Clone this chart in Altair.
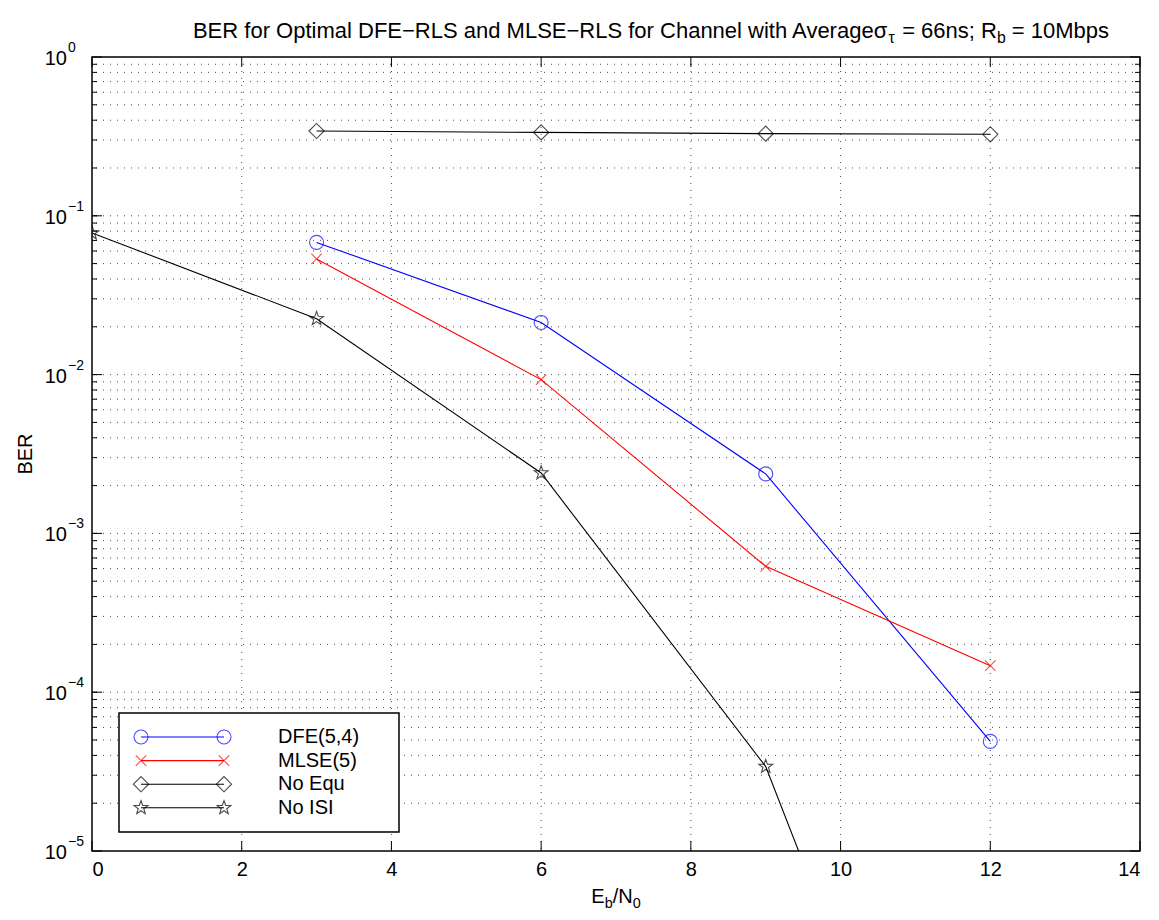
import math
import altair as alt
import pandas as pd

# ---- data -------------------------------------------------------------
series_names = ["DFE(5,4)", "MLSE(5)", "No Equ", "No ISI"]
series_colors = ["#0000ff", "#ff0000", "#000000", "#000000"]

ebn0 = [3, 6, 9, 12]
ber_dfe = [0.068, 0.0213, 0.00237, 4.9e-5]
ber_mlse = [0.0535, 0.0093, 0.00062, 1.47e-4]
ber_no_equ = [0.342, 0.335, 0.329, 0.326]
ebn0_no_isi = [0, 3, 6, 9, 12]
ber_no_isi = [0.078, 0.0225, 0.0024, 3.4e-5, 8e-9]

x_ticks = [0, 2, 4, 6, 8, 10, 12, 14]
y_decades = [1e0, 1e-1, 1e-2, 1e-3, 1e-4, 1e-5]
y_exponents = ["0", "\u22121", "\u22122", "\u22123", "\u22124", "\u22125"]

# ---- geometry / style --------------------------------------------------
W, H = 1048, 794
PAD = {"left": 92, "top": 57, "right": 19, "bottom": 69}
FONT = "Liberation Sans"
FS = 20

X_PATH = "M-1,-1L1,1M1,-1L-1,1"
star_pts = []
for k in range(10):
    r = 1.0 if k % 2 == 0 else 0.40
    a = math.radians(-90 + 36 * k)
    star_pts.append(f"{r * math.cos(a):.3f},{r * math.sin(a):.3f}")
STAR_PATH = "M" + "L".join(star_pts) + "Z"

marker_shapes = ["circle", X_PATH, "diamond", STAR_PATH]
marker_sizes = [196, 110, 230, 210]

xscale = alt.Scale(domain=[0, 14], nice=False, zero=False)
yscale = alt.Scale(type="log", domain=[1e-5, 1], nice=False)
xaxis = alt.Axis(values=x_ticks, ticks=False, domain=False, grid=False,
                 labelFont=FONT, labelFontSize=FS, labelColor="black",
                 labelPadding=8, title=None, format="d")

rows = []
all_x = [ebn0, ebn0, ebn0, ebn0_no_isi]
all_y = [ber_dfe, ber_mlse, ber_no_equ, ber_no_isi]
for i, name in enumerate(series_names):
    for xv, yv in zip(all_x[i], all_y[i]):
        rows.append({"series": name, "x": xv, "y": yv,
                     "color": series_colors[i], "shape": marker_shapes[i],
                     "size": marker_sizes[i]})
df = pd.DataFrame(rows)

# Arial / Liberation Sans advance widths (1/1000 em)
ADV = {' ': 278, 'B': 667, 'E': 667, 'R': 722, 'f': 278, 'o': 556, 'r': 333,
       'O': 778, 'p': 556, 't': 278, 'i': 222, 'm': 833, 'a': 556, 'l': 222,
       'D': 722, 'F': 611, '\u2212': 584, 'L': 556, 'S': 667, 'n': 556,
       'd': 556, 'M': 833, 'C': 722, 'h': 556, 'e': 556, 'w': 722, 'A': 667,
       'v': 500, 'g': 556, '\u03c3': 600, '\u03c4': 480, '=': 584, '6': 556,
       's': 500, ';': 278, '1': 556, '0': 556, 'b': 556, 'N': 722, '/': 278}


def text_width(s, size):
    return sum(ADV.get(c, 556) for c in s) * size / 1000.0


def rich_text(pieces, cx, baseline, size):
    """Lay out (text, is_subscript) pieces centred on cx."""
    sub = size * 0.72
    total = sum(text_width(t, sub if s else size) for t, s in pieces)
    x = cx - total / 2
    out = []
    for t, s in pieces:
        fs = sub if s else size
        body = t.lstrip(" ")
        x += text_width(t[: len(t) - len(body)], fs)  # SVG drops leading blanks
        out.append(alt.Chart(pd.DataFrame({"k": [0]})).mark_text(
            align="left", baseline="alphabetic", font=FONT, fontSize=fs,
            color="black").encode(
            x=alt.value(x), y=alt.value(baseline + (5 if s else 0)),
            text=alt.value(body)))
        x += text_width(body, fs)
    return out


def X(field="x"):
    return alt.X(f"{field}:Q", scale=xscale, axis=xaxis)


def Y(field="y"):
    return alt.Y(f"{field}:Q", scale=yscale, axis=None)


layers = []

# dotted grid
grid_dash = [1, 6]
xgrid = pd.DataFrame({"x": x_ticks[1:-1]})
layers.append(alt.Chart(xgrid).mark_rule(strokeDash=grid_dash, color="#222",
                                         strokeWidth=1, opacity=0.8).encode(x=X()))
ygrid_vals = []
for d in y_decades[1:]:
    for k in range(1, 10):
        v = d * k
        if 1e-5 < v < 1:
            ygrid_vals.append(v)
ygrid = pd.DataFrame({"y": ygrid_vals})
layers.append(alt.Chart(ygrid).mark_rule(strokeDash=grid_dash, color="#222",
                                         strokeWidth=1, opacity=0.8).encode(y=Y()))

# inward ticks on all four sides
majors = pd.DataFrame({"y": y_decades})
minors = pd.DataFrame({"y": ygrid_vals})
for tick_df, length in [(majors, 10), (minors, 5)]:
    layers.append(alt.Chart(tick_df).mark_rule(color="black", strokeWidth=1).encode(
        y=Y(), x=alt.value(0), x2=alt.value(length)))
    layers.append(alt.Chart(tick_df).mark_rule(color="black", strokeWidth=1).encode(
        y=Y(), x=alt.value(W - length), x2=alt.value(W)))
xt = pd.DataFrame({"x": x_ticks})
layers.append(alt.Chart(xt).mark_rule(color="black", strokeWidth=1).encode(
    x=X(), y=alt.value(H - 10), y2=alt.value(H)))
layers.append(alt.Chart(xt).mark_rule(color="black", strokeWidth=1).encode(
    x=X(), y=alt.value(0), y2=alt.value(10)))

# y tick labels: 10 with a raised exponent
ylab = pd.DataFrame({"y": y_decades, "e": y_exponents})
layers.append(alt.Chart(ylab).mark_text(align="right", baseline="middle", font=FONT,
                                        fontSize=FS, color="black", dx=-25, dy=2).encode(
    y=Y(), x=alt.value(0), text=alt.value("10")))
layers.append(alt.Chart(ylab).mark_text(align="left", baseline="middle", font=FONT,
                                        fontSize=14, color="black", dx=-24, dy=-9).encode(
    y=Y(), x=alt.value(0), text="e:N"))

# x axis carrier (labels only)
layers.append(alt.Chart(xt).mark_point(opacity=0).encode(x=X(), y=alt.value(H)))

# curves
layers.append(alt.Chart(df).mark_line(strokeWidth=1.1, clip=True).encode(
    x=X(), y=Y(), detail="series:N", color=alt.Color("color:N", scale=None)))
layers.append(alt.Chart(df).mark_point(filled=False, strokeWidth=1.1, clip=True).encode(
    x=X(), y=Y(), color=alt.Color("color:N", scale=None),
    shape=alt.Shape("shape:N", scale=None), size=alt.Size("size:Q", scale=None)))

# legend box
LX0, LY0, LX1, LY1 = 27, 656, 307, 775
layers.append(alt.Chart(pd.DataFrame({"k": [0]})).mark_rect(
    fill="white", stroke="black", strokeWidth=1.5).encode(
    x=alt.value(LX0), x2=alt.value(LX1), y=alt.value(LY0), y2=alt.value(LY1)))
leg = pd.DataFrame({
    "name": series_names,
    "color": series_colors,
    "shape": marker_shapes,
    "size": marker_sizes,
    "ly": [680 + 23.6 * i for i in range(4)],
})
leg["lx0"] = 49
leg["lx1"] = 132
leg["tx"] = 186
layers.append(alt.Chart(leg).mark_rule(strokeWidth=1.1).encode(
    x=alt.X("lx0:Q", scale=None), x2="lx1:Q", y=alt.Y("ly:Q", scale=None),
    color=alt.Color("color:N", scale=None)))
for col in ["lx0", "lx1"]:
    layers.append(alt.Chart(leg).mark_point(filled=False, strokeWidth=1.1).encode(
        x=alt.X(f"{col}:Q", scale=None), y=alt.Y("ly:Q", scale=None),
        color=alt.Color("color:N", scale=None),
        shape=alt.Shape("shape:N", scale=None), size=alt.Size("size:Q", scale=None)))
layers.append(alt.Chart(leg).mark_text(align="left", baseline="middle", font=FONT,
                                       fontSize=FS, color="black").encode(
    x=alt.X("tx:Q", scale=None), y=alt.Y("ly:Q", scale=None), text="name:N"))

# titles
layers += rich_text([("BER for Optimal DFE\u2212RLS and MLSE\u2212RLS for Channel with Average\u03c3", False),
                     ("\u03c4", True), (" = 66ns; R", False), ("b", True),
                     (" = 10Mbps", False)], W / 2 + 35, -19, 22)
layers += rich_text([("E", False), ("b", True), ("/N", False), ("0", True)],
                    W / 2, H + 52, FS)
layers.append(alt.Chart(pd.DataFrame({"k": [0]})).mark_text(
    font=FONT, fontSize=FS, angle=270, baseline="middle", align="center",
    color="black").encode(x=alt.value(-66), y=alt.value(H / 2), text=alt.value("BER")))

chart = alt.layer(*layers).properties(
    width=W, height=H, padding=PAD,
    autosize=alt.AutoSizeParams(type="none"),
    background="white",
).configure_view(stroke="black", strokeWidth=1.5)

chart.save("out.html", embed_options={"renderer": "svg", "actions": False})
